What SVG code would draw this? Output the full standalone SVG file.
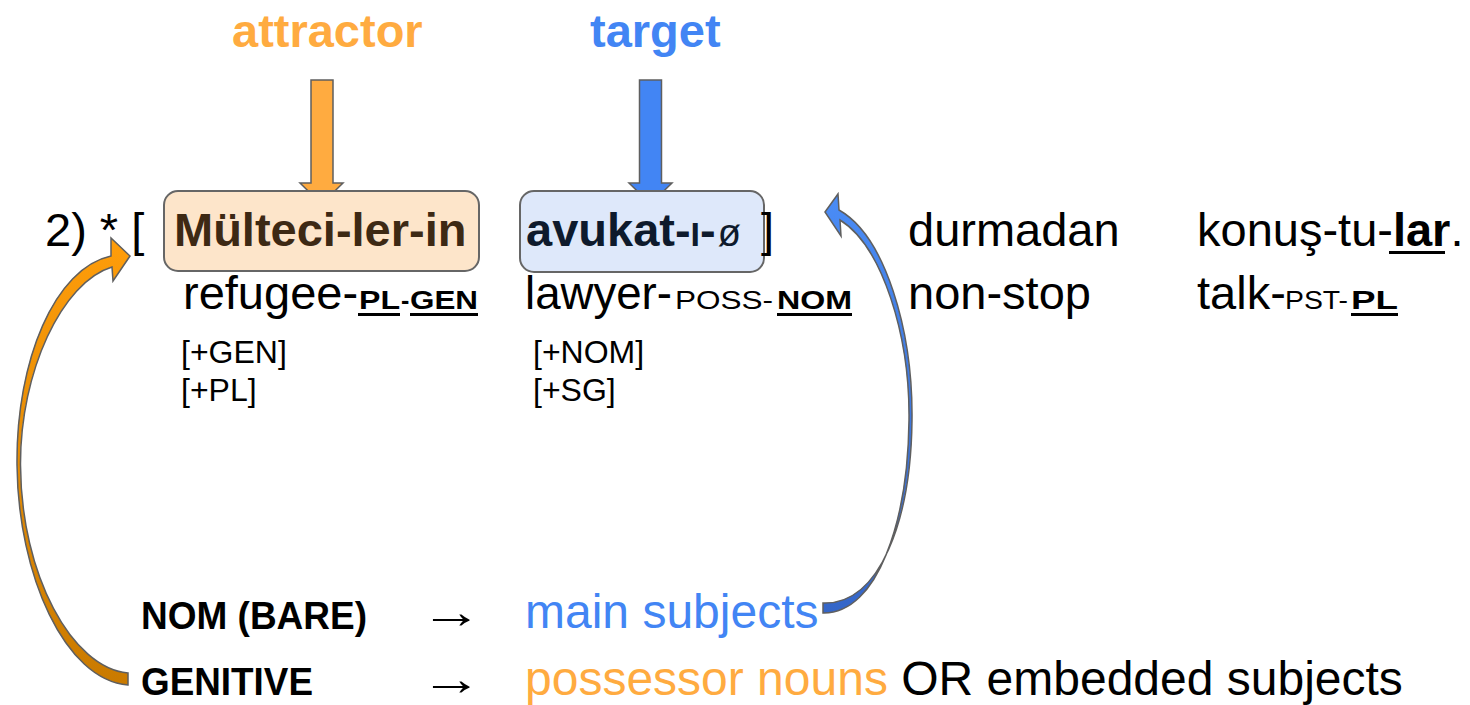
<svg xmlns="http://www.w3.org/2000/svg" width="1470" height="705" viewBox="0 0 1470 705">
<style>
text{font-family:"Liberation Sans",Arial,sans-serif;fill:#000}
.m{font-size:47px}
.L{font-size:48px}
.b{font-weight:bold}
.sc{font-size:25px}
.f{font-size:32px}
.k{font-size:38px;font-weight:bold}
.or{fill:#FFAB40}
.bl{fill:#4285F4}
.ul{fill:#000}
.arr{stroke:#5f5f5f;stroke-width:1.5;stroke-linejoin:miter}
</style>
<defs>
<linearGradient id="og" x1="0" y1="238" x2="0" y2="686" gradientUnits="userSpaceOnUse">
<stop offset="0" stop-color="#FF9D0A"/><stop offset="1" stop-color="#C97A00"/>
</linearGradient>
<linearGradient id="bg" x1="0" y1="194" x2="0" y2="614" gradientUnits="userSpaceOnUse">
<stop offset="0" stop-color="#4A8CF6"/><stop offset="1" stop-color="#3566C8"/>
</linearGradient>
</defs>
<g id="title-attractor"><text class="m b or" x="232" y="47">attractor</text></g>
<g id="title-target"><text class="m b bl" x="590" y="47">target</text></g>
<g id="connectors">
<polygon class="arr" fill="#FFAB40" points="311,80 333,80 333,183 343,183 321.5,204 300,183 311,183"/>
<polygon class="arr" fill="#4285F4" points="639.5,80 661.5,80 661.5,183 672,183 650.5,204 629,183 639.5,183"/>
<path class="arr" stroke-width="1.2" fill="url(#og)" d="M 111 256 C 55 268, 16 360, 17 465 C 18 575, 65 680, 128 685 L 128 673 C 72 668, 21 575, 20.5 465 C 20 372, 62 282, 112 267 L 113 281 L 130 256 L 111 238 Z"/>
<path class="arr" stroke-width="1.2" fill="url(#bg)" d="M 825 212 L 838 194 L 839 210 C 885 236, 913 330, 912 420 C 911 520, 880 605, 823 603 L 823 613 C 878 614, 908 520, 909 420 C 910 335, 882 246, 840 220 L 841 236 Z"/>
</g>
<g id="example-number"><text class="m" x="45" y="246">2) * [</text></g>
<g id="node-attractor">
<rect x="164" y="191" width="315" height="80" rx="14" fill="#FDE5CA" stroke="#666" stroke-width="2"/>
<text class="m b" x="174" y="246" style="fill:#3D2914">Mülteci-ler-in</text>
</g>
<g id="node-target">
<rect x="520" y="191" width="244" height="81" rx="14" fill="#DEE8FA" stroke="#666" stroke-width="2"/>
<text class="m b" x="526" y="246" style="fill:#0E1A2C">avukat-<tspan style="font-size:34px">I</tspan>-<tspan dx="2" style="font-size:38px;font-weight:normal">ø</tspan></text>
</g>
<g id="bracket"><text class="m" x="761" y="246">]</text></g>
<g id="word-durmadan"><text class="m" x="908" y="246">durmadan</text></g>
<g id="word-konustular"><text class="m" x="1197" y="246">konuş-tu-<tspan class="b">lar</tspan>.</text>
<rect class="ul" x="1389" y="251" width="56" height="3"/></g>
<g id="gloss-refugee">
<text class="m" x="183" y="309">refugee-</text>
<text class="sc b" x="359" y="309" textLength="41" lengthAdjust="spacingAndGlyphs">PL</text>
<text class="sc b" x="401" y="309">-</text>
<text class="sc b" x="410" y="309" textLength="68" lengthAdjust="spacingAndGlyphs">GEN</text>
<rect class="ul" x="358" y="313" width="42" height="3"/>
<rect class="ul" x="410" y="313" width="68" height="3"/>
</g>
<g id="gloss-lawyer">
<text class="m" x="525" y="309" textLength="147" lengthAdjust="spacingAndGlyphs">lawyer-</text>
<text class="sc" x="675" y="309" textLength="98" lengthAdjust="spacingAndGlyphs">POSS-</text>
<text class="sc b" x="777" y="309" textLength="75" lengthAdjust="spacingAndGlyphs">NOM</text>
<rect class="ul" x="777" y="313" width="75" height="3"/>
</g>
<g id="gloss-nonstop"><text class="m" x="908" y="309">non-stop</text></g>
<g id="gloss-talk">
<text class="m" x="1197" y="309">talk-</text>
<text class="sc" x="1285" y="309" textLength="63" lengthAdjust="spacingAndGlyphs">PST-</text>
<text class="sc b" x="1351" y="309" textLength="47" lengthAdjust="spacingAndGlyphs">PL</text>
<rect class="ul" x="1351" y="313" width="47" height="3"/>
</g>
<g id="features-attractor">
<text class="f" x="181" y="363">[+GEN]</text>
<text class="f" x="181" y="401">[+PL]</text>
</g>
<g id="features-target">
<text class="f" x="533" y="363">[+NOM]</text>
<text class="f" x="533" y="401">[+SG]</text>
</g>
<g id="rule-nom">
<text class="k" x="141" y="629" textLength="226" lengthAdjust="spacingAndGlyphs">NOM (BARE)</text>
<text class="m" x="420" y="628" textLength="62" lengthAdjust="spacingAndGlyphs">→</text>
<text class="L bl" x="525" y="628">main subjects</text>
</g>
<g id="rule-gen">
<text class="k" x="141" y="695" textLength="172" lengthAdjust="spacingAndGlyphs">GENITIVE</text>
<text class="m" x="420" y="695" textLength="62" lengthAdjust="spacingAndGlyphs">→</text>
<text class="L" x="525" y="695"><tspan class="or">possessor nouns</tspan> OR embedded subjects</text>
</g>
</svg>
